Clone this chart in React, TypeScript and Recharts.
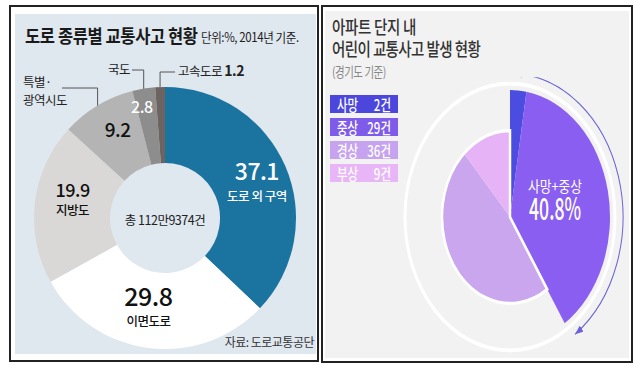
import React from "react";
import { PieChart, Pie, Cell } from "recharts";

// 도로 종류별 교통사고 현황 (단위: %, 2014년 기준)
const roadTypes = ["도로 외 구역", "이면도로", "지방도", "특별·광역시도", "국도", "고속도로"];
const roadShares = [37.1, 29.8, 19.9, 9.2, 2.8, 1.2];
const roadTotal = "총 112만9374건";

// 아파트 단지 내 어린이 교통사고 발생 현황 (경기도 기준, 건)
const injuryTypes = ["사망", "중상", "경상", "부상"];
const injuryCounts = [2, 29, 36, 9];

const roadColors = ["#1b74a0", "#ffffff", "#d9d8d6", "#b4b4b4", "#8d8d8d", "#6d6462"];
const injuryColors = ["#4b4de0", "#8a5ef0", "#c9a6ee", "#e5b3f6"];
const legendColors = ["#4b47dc", "#7f5be9", "#c6a3ee", "#e8b6f6"];

const roadData = roadTypes.map((name, i) => ({ name, value: roadShares[i] }));
const injuryData = injuryTypes.map((name, i) => ({ name, value: injuryCounts[i] }));
const severeCount = injuryCounts[0] + injuryCounts[1];
const totalCount = injuryCounts.reduce((a, b) => a + b, 0);
const severeGroups = [
  { name: "사망+중상", value: severeCount },
  { name: "경상+부상", value: totalCount - severeCount },
];

const FONT = '"Noto Sans CJK KR", "Noto Sans", sans-serif';
const RAD = Math.PI / 180;
const polar = (cx: number, cy: number, r: number, angle: number) => ({
  x: cx + r * Math.cos(-angle * RAD),
  y: cy + r * Math.sin(-angle * RAD),
});

// where the numbers sit inside the ring
const inner = [
  { r: 100, dx: 0, size: 23, color: "#fff", numDy: 1, subDy: 22, sub: true },
  { r: 84, dx: -6, size: 25, color: "#111", numDy: 5, subDy: 25, sub: true },
  { r: 92, dx: -1, size: 18, color: "#111", numDy: -10, subDy: 8, sub: true },
  { r: 98, dx: 3, size: 19, color: "#111", numDy: 3, sub: false },
  { r: 112, dx: -5, size: 16, color: "#fff", numDy: 6, sub: false },
];
// elbow callouts for the thin slices (chart coords)
const callouts: Record<number, { elbowY: number; endX: number; textX: number; baseY: number }> = {
  3: { elbowY: 30, endX: 52, textX: 13, baseY: 29 },
  4: { elbowY: 12, endX: 122, textX: 120, baseY: 16 },
  5: { elbowY: 14, endX: 165, textX: 168, baseY: 18 },
};

function RoadLabel(props: any) {
  const { cx, cy, midAngle, outerRadius, index, name, value } = props;
  const parts: React.ReactNode[] = [];
  const l = inner[index];
  if (l) {
    const p = polar(cx, cy, l.r, midAngle);
    parts.push(
      <text key="n" x={p.x + l.dx} y={p.y + l.numDy} textAnchor="middle" fontSize={l.size} fill={l.color} fontFamily={FONT} fontWeight={500} letterSpacing={-0.5}>
        {value.toFixed(1)}
      </text>
    );
    if (l.sub) {
      parts.push(
        <text key="s" x={p.x + l.dx} y={p.y + (l.subDy ?? 0)} textAnchor="middle" fontSize={12.5} fill={l.color} fontFamily={FONT} fontWeight={500} letterSpacing={-0.5}>
          {name}
        </text>
      );
    }
  }
  const c = callouts[index];
  if (c) {
    const p0 = polar(cx, cy, outerRadius, midAngle);
    parts.push(
      <polyline key="l" points={`${p0.x},${p0.y} ${p0.x},${c.elbowY} ${c.endX},${c.elbowY}`} fill="none" stroke="#555" strokeWidth={1} />
    );
    if (index === 3) {
      const [a, b] = name.split("·");
      parts.push(
        <text key="t" fontSize={12.5} fill="#222" fontFamily={FONT} letterSpacing={-0.5}>
          <tspan x={c.textX} y={c.baseY}>{a}·</tspan>
          <tspan x={c.textX} y={c.baseY + 18}>{b}</tspan>
        </text>
      );
    } else if (index === 5) {
      parts.push(
        <text key="t" x={c.textX} y={c.baseY} fontSize={12.5} fill="#222" fontFamily={FONT} letterSpacing={-0.5}>
          {name} <tspan fontSize={14} fontWeight={700}>{value.toFixed(1)}</tspan>
        </text>
      );
    } else {
      parts.push(
        <text key="t" x={c.textX} y={c.baseY} textAnchor="end" fontSize={12.5} fill="#222" fontFamily={FONT} letterSpacing={-0.5}>
          {name}
        </text>
      );
    }
  }
  return <g>{parts}</g>;
}

// "사망+중상 40.8%" inside the severe share
function SevereLabel(props: any) {
  const { cx, cy, midAngle, index, name, value } = props;
  if (index !== 0) return <g />;
  const p = polar(cx, cy, 47, midAngle);
  const pct = ((value / totalCount) * 100).toFixed(1);
  return (
    <g>
      <text x={p.x} y={p.y - 6} textAnchor="middle" fontSize={11.5} fill="#fff" fontFamily={FONT} textLength={54} lengthAdjust="spacingAndGlyphs">
        {name}
      </text>
      <text x={p.x} y={p.y + 16} textAnchor="middle" fontSize={24} fill="#fff" fontFamily={FONT} fontWeight={500} textLength={52} lengthAdjust="spacingAndGlyphs">
        {pct}%
      </text>
    </g>
  );
}

function Txt({ x, y, size, color = "#222", weight = 400, anchor = "start", sy = 1, spacing = 0, children }: any) {
  const tx = anchor === "middle" ? "-50%" : anchor === "end" ? "-100%" : "0";
  return (
    <div
      style={{
        position: "absolute",
        left: x,
        top: y,
        fontSize: size,
        lineHeight: 1,
        color,
        fontWeight: weight,
        whiteSpace: "nowrap",
        letterSpacing: spacing,
        transform: `translate(${tx}, -50%) scaleY(${sy})`,
      }}
    >
      {children}
    </div>
  );
}

export default function App() {
  // right pie geometry (unscaled chart coords)
  const rc = { x: 120, y: 110 };
  const severeAngle = (360 * severeCount) / totalCount;
  const arcR = 113;
  const a0 = polar(rc.x, rc.y, arcR, 90 - 2);
  const a1 = polar(rc.x, rc.y, arcR, 90 - (severeAngle - 2));

  return (
    <div style={{ position: "absolute", left: 0, top: 0, width: 638, height: 369, background: "#fff", fontFamily: FONT }}>
      {/* left panel */}
      <div style={{ position: "absolute", left: 9, top: 5, width: 306, height: 353, border: "2px solid #222" }} />
      <div style={{ position: "absolute", left: 15, top: 14, width: 301, height: 340, background: "#dfe7ef" }} />
      <Txt x={25} y={35} size={16.5} weight={700} sy={1.12} spacing={-0.4} color="#1a1a1a">
        도로 종류별 교통사고 현황
      </Txt>
      <Txt x={201} y={37} size={11.5} sy={1.1} spacing={-0.4} color="#222">
        단위:%, 2014년 기준.
      </Txt>
      <div style={{ position: "absolute", left: 10, top: 58 }}>
        <PieChart width={310} height={320} margin={{ top: 0, right: 0, bottom: 0, left: 0 }} style={{ overflow: "visible" }}>
          <Pie
            data={roadData}
            dataKey="value"
            nameKey="name"
            cx={155}
            cy={160}
            innerRadius={55}
            outerRadius={131}
            startAngle={90}
            endAngle={-270}
            stroke="none"
            label={RoadLabel}
            labelLine={false}
            isAnimationActive={false}
          >
            {roadData.map((d, i) => (
              <Cell key={d.name} fill={roadColors[i]} />
            ))}
          </Pie>
        </PieChart>
      </div>
      <Txt x={165} y={220} size={12.5} anchor="middle" spacing={-0.5} color="#222">
        {roadTotal}
      </Txt>
      <Txt x={314} y={342} size={12} anchor="end" spacing={-0.5} color="#333">
        자료: 도로교통공단
      </Txt>

      {/* right panel */}
      <div style={{ position: "absolute", left: 321, top: 5, width: 308, height: 354, border: "2px solid #222" }} />
      <div style={{ position: "absolute", left: 325, top: 11, width: 304, height: 347, background: "#f2f2f2" }} />
      <Txt x={332} y={27} size={14.5} weight={500} sy={1.25} spacing={-0.3} color="#333">
        아파트 단지 내
      </Txt>
      <Txt x={332} y={49} size={14.5} weight={500} sy={1.25} spacing={-0.6} color="#333">
        어린이 교통사고 발생 현황
      </Txt>
      <Txt x={332} y={72} size={10.5} sy={1.25} spacing={-0.5} color="#888">
        (경기도 기준)
      </Txt>
      {injuryTypes.map((t, i) => (
        <div
          key={t}
          style={{
            position: "absolute",
            left: 330,
            top: 95 + i * 23,
            width: 68,
            height: 18,
            background: legendColors[i],
            color: "#fff",
            fontSize: 11.5,
            fontWeight: 500,
            display: "flex",
            alignItems: "center",
            justifyContent: "space-between",
            padding: "0 7px",
            boxSizing: "border-box",
          }}
        >
          <span style={{ display: "inline-block", transform: "scaleY(1.35)" }}>{t}</span>
          <span style={{ display: "inline-block", transform: "scaleY(1.35)" }}>{injuryCounts[i]}건</span>
        </div>
      ))}
      <div
        style={{
          position: "absolute",
          left: 510 - rc.x,
          top: 217 - rc.y,
          width: 240,
          height: 220,
          transform: "scaleY(1.27)",
          transformOrigin: `${rc.x}px ${rc.y}px`,
        }}
      >
        <PieChart width={240} height={220} margin={{ top: 0, right: 0, bottom: 0, left: 0 }}>
          <defs>
            <marker id="arrowHead" viewBox="0 0 8 6" refX={8} refY={3} markerWidth={8} markerHeight={6} markerUnits="userSpaceOnUse" orient="auto-start-reverse">
              <path d="M0,0 L8,3 L0,6 z" fill="#6a62d6" />
            </marker>
          </defs>
          <circle cx={rc.x} cy={rc.y} r={105} fill="none" stroke="#ffffff" strokeWidth={3} />
          <Pie
            data={injuryData}
            dataKey="value"
            cx={rc.x}
            cy={rc.y}
            outerRadius={100}
            startAngle={90}
            endAngle={-270}
            stroke="none"
            isAnimationActive={false}
          >
            {injuryData.map((d, i) => (
              <Cell key={d.name} fill={i < 2 ? injuryColors[i] : "transparent"} />
            ))}
          </Pie>
          <Pie
            data={injuryData}
            dataKey="value"
            cx={rc.x}
            cy={rc.y}
            outerRadius={68}
            startAngle={90}
            endAngle={-270}
            stroke="none"
            isAnimationActive={false}
          >
            {injuryData.map((d, i) => (
              <Cell key={d.name} fill={i >= 2 ? injuryColors[i] : "transparent"} />
            ))}
          </Pie>
          <Pie
            data={severeGroups}
            dataKey="value"
            nameKey="name"
            cx={rc.x}
            cy={rc.y}
            outerRadius={68}
            startAngle={90}
            endAngle={-270}
            label={SevereLabel}
            labelLine={false}
            isAnimationActive={false}
          >
            {severeGroups.map((d, i) => (
              <Cell key={d.name} fill="transparent" stroke={i === 1 ? "#ffffff" : "none"} strokeWidth={2.5} />
            ))}
          </Pie>
          <path
            d={`M${a0.x},${a0.y} A${arcR},${arcR} 0 0 1 ${a1.x},${a1.y}`}
            fill="none"
            stroke="#6a62d6"
            strokeWidth={1}
            markerStart="url(#arrowHead)"
            markerEnd="url(#arrowHead)"
          />
        </PieChart>
      </div>
    </div>
  );
}
